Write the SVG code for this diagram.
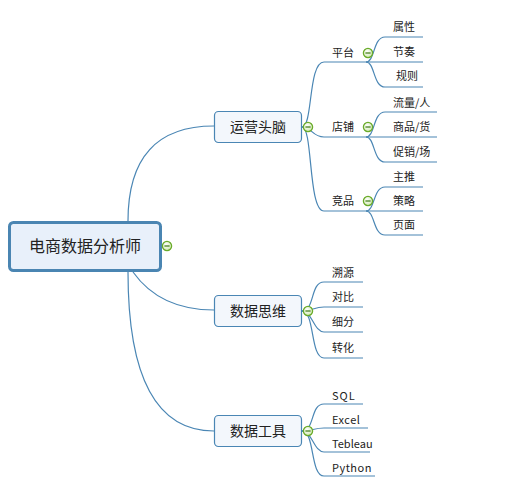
<svg xmlns="http://www.w3.org/2000/svg" width="529" height="480" viewBox="0 0 529 480">
<defs>
<radialGradient id="g" cx="0.4" cy="0.35" r="0.7">
<stop offset="0" stop-color="#ffffff"/>
<stop offset="1" stop-color="#cfe8b0"/>
</radialGradient>
<g id="minus">
<circle r="4.6" fill="url(#g)" stroke="#6aab2a" stroke-width="1.3"/>
<line x1="-2.6" y1="0" x2="2.6" y2="0" stroke="#3d7a12" stroke-width="1.2"/>
</g>
</defs>
<style>
.e{fill:none;stroke:#4a86b4;stroke-width:1.2}
.t{font-family:"Noto Sans CJK SC","Liberation Sans",sans-serif;fill:#222}
.l{font-size:11px}
.b{font-size:14px}
.box{fill:#f3f7fc;stroke:#4a86b4;stroke-width:1.2}
</style>
<rect width="529" height="480" fill="#ffffff"/>
<g id="connectors">
<path class="e" d="M128,221 Q128,126 214,126"/>
<path class="e" d="M133,272 Q160,310 214,310"/>
<path class="e" d="M128,272 Q128,431 214,431"/>
<path class="e" d="M302,127 C313,127 308,62 324,62 L423,62"/>
<path class="e" d="M302,127 C312,127 312,137 324,137 L437,137"/>
<path class="e" d="M302,127 C313,127 308,211 324,211 L423,211"/>
<path class="e" d="M366,62 C375,62 373,37 385,37 L423,37"/>
<path class="e" d="M366,62 C375,62 373,87 385,87 L423,87"/>
<path class="e" d="M366,137 C375,137 373,112 385,112 L437,112"/>
<path class="e" d="M366,137 C375,137 373,162 385,162 L437,162"/>
<path class="e" d="M366,211 C375,211 373,187 385,187 L423,187"/>
<path class="e" d="M366,211 C375,211 373,235 385,235 L423,235"/>
<path class="e" d="M302,311 C315,311 310,282 324,282 L363,282"/>
<path class="e" d="M302,311 C312,311 314,307 324,307 L363,307"/>
<path class="e" d="M302,311 C312,311 314,332 324,332 L363,332"/>
<path class="e" d="M302,311 C315,311 310,358 324,358 L363,358"/>
<path class="e" d="M302,431 C315,431 310,404 324,404 L363,404"/>
<path class="e" d="M302,431 C312,431 314,428 324,428 L368,428"/>
<path class="e" d="M302,431 C312,431 314,452 324,452 L370,452"/>
<path class="e" d="M302,431 C315,431 310,476 324,476 L375,476"/>
</g>
<g id="root">
<rect x="9.5" y="222.5" width="151" height="48" rx="4" fill="#e8f0fa" stroke="#4a85b2" stroke-width="3"/>
<text class="t" x="85" y="252" font-size="16" text-anchor="middle">电商数据分析师</text>
<use href="#minus" x="167" y="246"/>
</g>
<g id="n-yunying">
<rect class="box" x="214.5" y="111.5" width="87" height="31" rx="4"/>
<text class="t b" x="258" y="132" text-anchor="middle">运营头脑</text>
<use href="#minus" x="308" y="127"/>
</g>
<g id="n-siwei">
<rect class="box" x="214.5" y="295.5" width="87" height="31" rx="4"/>
<text class="t b" x="258" y="316" text-anchor="middle">数据思维</text>
<use href="#minus" x="308" y="311"/>
</g>
<g id="n-gongju">
<rect class="box" x="214.5" y="415.5" width="87" height="31" rx="4"/>
<text class="t b" x="258" y="436" text-anchor="middle">数据工具</text>
<use href="#minus" x="308" y="431"/>
</g>
<g id="n-pingtai"><text class="t l" x="332" y="57">平台</text><use href="#minus" x="368" y="53"/></g>
<g id="n-dianpu"><text class="t l" x="332" y="131">店铺</text><use href="#minus" x="368" y="127"/></g>
<g id="n-jingpin"><text class="t l" x="332" y="205">竞品</text><use href="#minus" x="368" y="201"/></g>
<g id="n-shuxing"><text class="t l" x="393" y="31">属性</text></g>
<g id="n-jiezou"><text class="t l" x="393" y="56">节奏</text></g>
<g id="n-guize"><text class="t l" x="396" y="80">规则</text></g>
<g id="n-liuliang"><text class="t l" x="393" y="107">流量/人</text></g>
<g id="n-shangpin"><text class="t l" x="393" y="131">商品/货</text></g>
<g id="n-cuxiao"><text class="t l" x="393" y="156">促销/场</text></g>
<g id="n-zhutui"><text class="t l" x="393" y="181">主推</text></g>
<g id="n-celue"><text class="t l" x="393" y="205">策略</text></g>
<g id="n-yemian"><text class="t l" x="393" y="229">页面</text></g>
<g id="n-suyuan"><text class="t l" x="332" y="277">溯源</text></g>
<g id="n-duibi"><text class="t l" x="332" y="301">对比</text></g>
<g id="n-xifen"><text class="t l" x="332" y="326">细分</text></g>
<g id="n-zhuanhua"><text class="t l" x="332" y="352">转化</text></g>
<g id="n-sql"><text class="t l" x="332" y="400" letter-spacing="1">SQL</text></g>
<g id="n-excel"><text class="t l" x="332" y="424" letter-spacing="0.5">Excel</text></g>
<g id="n-tableau"><text class="t l" x="332" y="448">Tebleau</text></g>
<g id="n-python"><text class="t l" x="332" y="472" letter-spacing="0.5">Python</text></g>
</svg>
